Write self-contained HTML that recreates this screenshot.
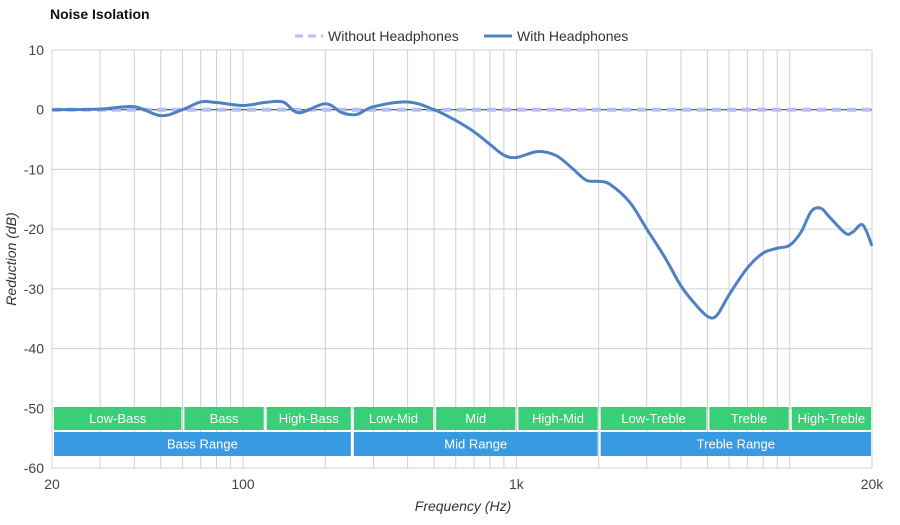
<!DOCTYPE html>
<html><head><meta charset="utf-8"><style>
body{margin:0;background:#fff;font-family:"Liberation Sans",sans-serif}
svg text{font-family:"Liberation Sans",sans-serif}
</style></head><body>
<svg id="c" width="900" height="520" xmlns="http://www.w3.org/2000/svg">
<text x="50" y="19" font-size="14" font-weight="bold" fill="#111">Noise Isolation</text>
<g>
<line x1="295" y1="36" x2="323" y2="36" stroke="#b3bff5" stroke-width="3" stroke-dasharray="8,5"/>
<text x="328" y="41" font-size="14" fill="#333">Without Headphones</text>
<line x1="484" y1="36" x2="512" y2="36" stroke="#4e81c4" stroke-width="3"/>
<text x="517" y="41" font-size="14" fill="#333">With Headphones</text>
</g>
<g id="grid"></g><g id="bands"></g><g id="series"></g><g id="axes"></g>
<text x="463" y="511" font-size="14" font-style="italic" fill="#333" text-anchor="middle">Frequency (Hz)</text>
<text transform="translate(16,259) rotate(-90)" font-size="14" font-style="italic" fill="#333" text-anchor="middle">Reduction (dB)</text>
</svg>
<script>
const freqs=[20,30,40,50,60,70,80,100,120,140,160,200,230,260,300,400,500,600,700,800,900,1000,1200,1400,1600,1800,2000,2200,2600,3000,3500,4000,4500,5000,5400,6000,7000,8000,9000,10000,11000,12000,13000,14000,16000,17000,18500,20000];
const withDb=[0,0.1,0.5,-1,0,1.3,1.2,0.7,1.2,1.3,-0.5,1.0,-0.5,-0.8,0.5,1.3,0,-1.8,-3.7,-5.8,-7.6,-8,-7,-7.7,-9.8,-11.8,-12,-12.5,-15.5,-20,-24.8,-29.5,-32.5,-34.6,-34.5,-31,-26.5,-24,-23.2,-22.7,-20.5,-17,-16.5,-18,-20.7,-20.5,-19.3,-22.8];
const withoutDb=[0,0];
const withoutFreqs=[20,20000];
const yTicks=[10,0,-10,-20,-30,-40,-50,-60];
const xLabels=[[20,"20"],[100,"100"],[1000,"1k"],[20000,"20k"]];
const bands=[["Low-Bass",20,60],["Bass",60,120],["High-Bass",120,250],["Low-Mid",250,500],["Mid",500,1000],["High-Mid",1000,2000],["Low-Treble",2000,5000],["Treble",5000,10000],["High-Treble",10000,20000]];
const ranges=[["Bass Range",20,250],["Mid Range",250,2000],["Treble Range",2000,20000]];
const X0=52,X1=872,Y0=50,Y1=468;
const xs=f=>X0+(Math.log10(f)-Math.log10(20))/3*(X1-X0);
const ys=v=>Y0+(10-v)/70*(Y1-Y0);
const NS="http://www.w3.org/2000/svg";
function mk(t,a,p){const e=document.createElementNS(NS,t);for(const k in a)e.setAttribute(k,a[k]);p.appendChild(e);return e;}
const grid=document.getElementById('grid'),axes=document.getElementById('axes'),bg=document.getElementById('bands'),sg=document.getElementById('series');
const gf=[];for(let d=10;d<=10000;d*=10)for(let m=1;m<10;m++){const f=d*m;if(f>=20&&f<=20000)gf.push(f);}gf.push(20000);
gf.forEach(f=>{const l=mk('line',{x1:xs(f),x2:xs(f),y1:Y0,y2:Y1,stroke:'#d0d0d0','stroke-width':1},grid);

});
yTicks.forEach(v=>{const l=mk('line',{x1:X0,x2:X1,y1:ys(v),y2:ys(v),stroke:v==0?'#333':'#d0d0d0','stroke-width':1},grid);


const t=mk('text',{x:44,y:ys(v)+5,'font-size':14,fill:'#444','text-anchor':'end'},axes);t.textContent=v;

});
xLabels.forEach(([f,s])=>{const t=mk('text',{x:xs(f),y:489,'font-size':14,fill:'#444','text-anchor':'middle'},axes);t.textContent=s;

});
function band(list,y,h,col,name){list.forEach(([n,a,b])=>{const x=xs(a)+2,w=xs(b)-xs(a)-3;
const r=mk('rect',{x:x,y:y,width:w,height:h,fill:col,opacity:0.95},bg);


const t=mk('text',{x:x+w/2,y:y+h/2+4.5,'font-size':13,fill:'#fff','text-anchor':'middle'},bg);t.textContent=n;

});}
band(bands,407,23,'#2ecc71','frequency-band');
band(ranges,432,24,'#2d96e0','frequency-range');
const wl=mk('line',{x1:xs(withoutFreqs[0]),x2:xs(withoutFreqs[1]),y1:ys(withoutDb[0]),y2:ys(withoutDb[1]),stroke:'#b3bff5','stroke-width':4,'stroke-dasharray':'9,6'},sg);


const P=freqs.map((f,i)=>[xs(f),ys(withDb[i])]);
let d=`M${P[0][0]},${P[0][1]}`;
for(let i=0;i<P.length-1;i++){const p0=P[i-1]||P[i],p1=P[i],p2=P[i+1],p3=P[i+2]||p2;
d+=` C${p1[0]+(p2[0]-p0[0])/6},${p1[1]+(p2[1]-p0[1])/6} ${p2[0]-(p3[0]-p1[0])/6},${p2[1]-(p3[1]-p1[1])/6} ${p2[0]},${p2[1]}`;}
const pl=mk('path',{d:d,fill:'none',stroke:'#4e81c4','stroke-width':3},sg);


</script>
</body></html>
